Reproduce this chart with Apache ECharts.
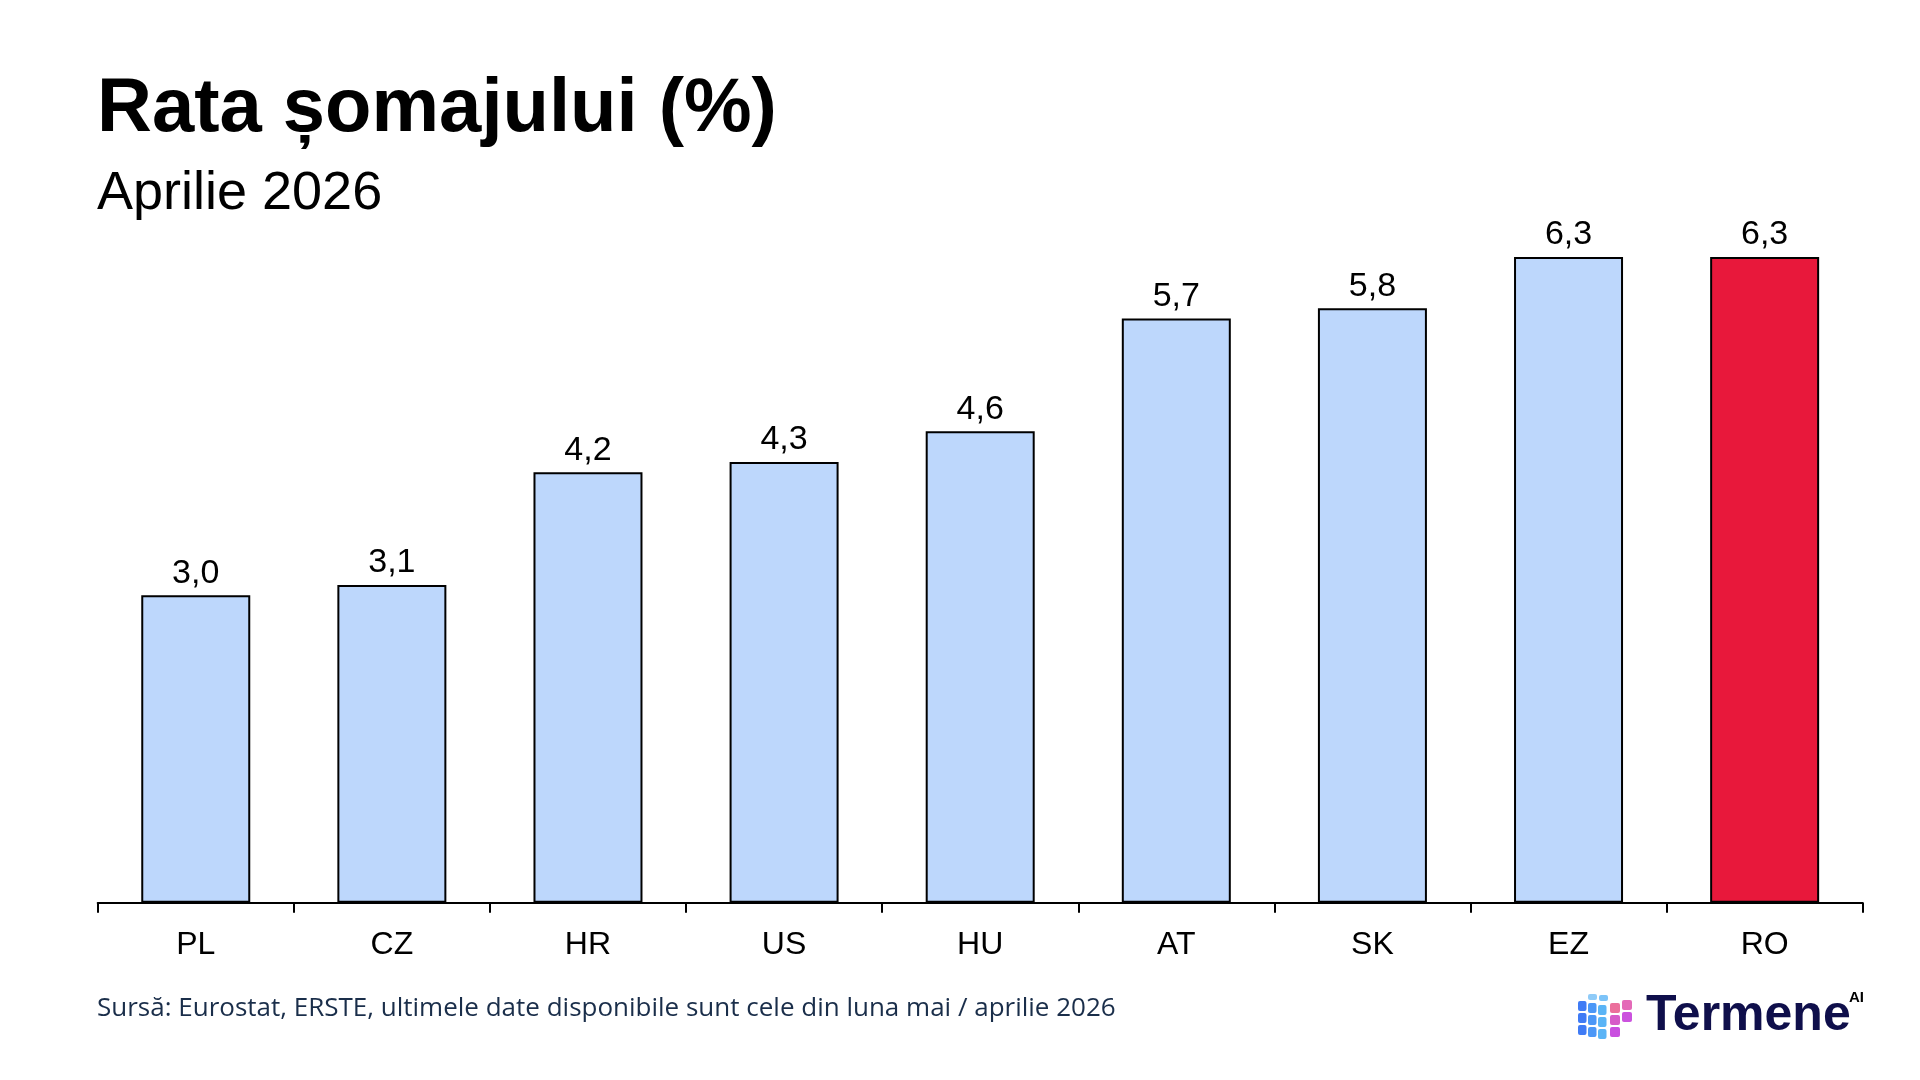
<!DOCTYPE html>
<html>
<head>
<meta charset="utf-8">
<title>Rata șomajului (%)</title>
<script src="https://cdn.jsdelivr.net/npm/echarts@6/dist/echarts.min.js"></script>
<style>
  html, body { margin: 0; padding: 0; background: #fff; }
  #chart { width: 1920px; height: 1080px; }
</style>
</head>
<body>
<div id="chart"></div>
<script>
// date
const categories = ['PL', 'CZ', 'HR', 'US', 'HU', 'AT', 'SK', 'EZ', 'RO'];
const unemployment = [3.0, 3.1, 4.2, 4.3, 4.6, 5.7, 5.8, 6.3, 6.3];
const highlighted = 'RO';

const titleText = 'Rata șomajului (%)';
const subtitleText = 'Aprilie 2026';
const sourceText = 'Sursă: Eurostat, ERSTE, ultimele date disponibile sunt cele din luna mai / aprilie 2026';

// culori
const barColor = '#BDD7FC';
const highlightColor = '#E8183B';
const fontFamily = '"Liberation Sans", Arial, sans-serif';

const chart = echarts.init(document.getElementById('chart'));

// logo (cub + text)
function logoCells() {
  const cells = [];
  const leftCols = ['#3F7BF5', '#4B97F7', '#5AB4F6'];
  // fata stanga
  for (let c = 0; c < 3; c++) {
    for (let r = 0; r < 3; r++) {
      cells.push({
        type: 'rect',
        shape: { x: 1578 + c * 10, y: 1001 + r * 12 + c * 2, width: 8.5, height: 10, r: 2 },
        style: { fill: leftCols[c] }
      });
    }
  }
  // fata dreapta
  const rightCols = [['#EB6F9C', '#D65BC8', '#C94FDF'], ['#E46AB8', '#CB52DE', '#C24CE6']];
  for (let c = 0; c < 2; c++) {
    for (let r = 0; r < 3; r++) {
      if (c === 1 && r === 2) continue;
      cells.push({
        type: 'rect',
        shape: { x: 1610 + c * 12, y: 1003 + r * 12 - c * 3, width: 10, height: 10, r: 2 },
        style: { fill: rightCols[c][r] }
      });
    }
  }
  // fata de sus
  cells.push({ type: 'rect', shape: { x: 1588, y: 994, width: 9, height: 6, r: 2 }, style: { fill: '#8FCBF8' } });
  cells.push({ type: 'rect', shape: { x: 1599, y: 995, width: 9, height: 6, r: 2 }, style: { fill: '#7CC3F8' } });
  return cells;
}

const option = {
  backgroundColor: '#ffffff',
  animation: false,
  title: [
    {
      text: titleText,
      left: 97,
      top: 72,
      padding: 0,
      textStyle: { fontFamily, fontSize: 76, fontWeight: 'bold', color: '#000' }
    },
    {
      text: subtitleText,
      left: 97,
      top: 167,
      padding: 0,
      textStyle: { fontFamily, fontSize: 54, fontWeight: 'normal', color: '#000' }
    },
    {
      text: sourceText,
      left: 97,
      top: 996,
      padding: 0,
      textStyle: { fontFamily: '"Open Sans", sans-serif', fontSize: 26, fontWeight: 'normal', color: '#1A2E4A' }
    }
  ],
  grid: {
    left: 97.7,
    right: 57.3,
    top: 185.2,
    bottom: 177.3,
    containLabel: false
  },
  xAxis: {
    type: 'category',
    data: categories,
    axisLine: { show: true, lineStyle: { color: '#000', width: 2 } },
    axisTick: { show: true, alignWithLabel: false, length: 10, lineStyle: { color: '#000', width: 2 } },
    axisLabel: { color: '#000', fontFamily, fontSize: 32, margin: 26 },
    splitLine: { show: false }
  },
  yAxis: {
    type: 'value',
    min: 0,
    max: 7,
    show: false,
    splitLine: { show: false }
  },
  series: [
    {
      type: 'bar',
      barWidth: 109,
      data: unemployment.map((v, i) => ({
        value: v,
        itemStyle: { color: categories[i] === highlighted ? highlightColor : barColor }
      })),
      itemStyle: { borderColor: '#000', borderWidth: 2 },
      label: {
        show: true,
        position: 'top',
        distance: 5,
        color: '#000',
        fontFamily,
        fontSize: 34,
        formatter: p => p.value.toFixed(1).replace('.', ',')
      }
    }
  ],
  graphic: [
    {
      type: 'group',
      children: logoCells().concat([
        {
          type: 'text',
          x: 1646,
          y: 1016,
          style: {
            text: 'Termene',
            fill: '#0F0F4B',
            font: 'bold 50px "Liberation Sans", Arial, sans-serif',
            verticalAlign: 'middle'
          }
        },
        {
          type: 'text',
          x: 1849,
          y: 998,
          style: {
            text: 'AI',
            font: 'bold 15px "Liberation Sans", Arial, sans-serif',
            verticalAlign: 'middle',
            fill: new echarts.graphic.LinearGradient(0, 0, 1, 0, [
              { offset: 0, color: '#F7A21B' },
              { offset: 1, color: '#B03AE0' }
            ])
          }
        }
      ])
    }
  ]
};

chart.setOption(option);
window.addEventListener('resize', () => chart.resize());
</script>
</body>
</html>
